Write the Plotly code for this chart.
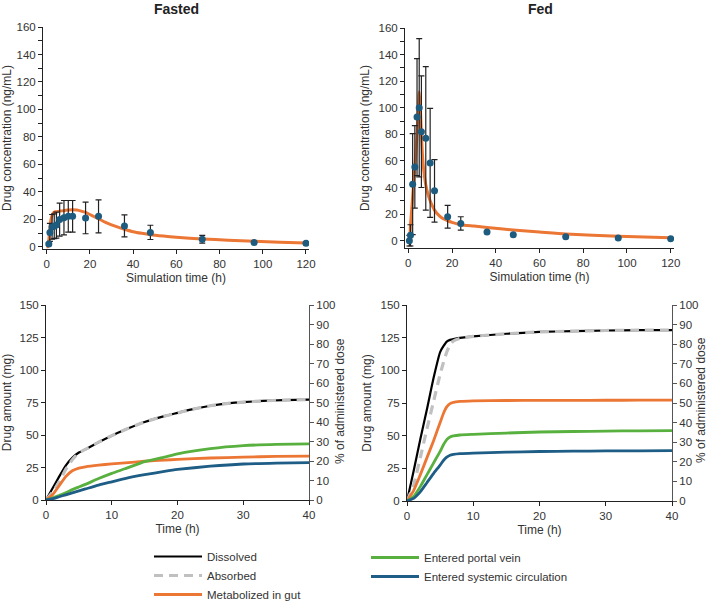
import plotly.graph_objects as go

# ---------------- data ----------------
# Top: plasma concentration (ng/mL)
fasted_obs_t = [1, 1.5, 2.5, 3.5, 4.5, 6, 8, 10, 12, 18, 24, 36, 48, 72, 96, 120]
fasted_obs_c = [2, 10.5, 14.5, 15, 15.8, 19.8, 21.2, 22.2, 22.2, 21, 22.2, 15.2, 10.5, 5.5, 3.2, 2.5]
fasted_obs_err = [0.8, 6.5, 9, 9, 9.5, 12, 12.5, 11.5, 11.5, 11.5, 12, 8, 5.2, 2.8, 0, 0]

fasted_sim_t = [0, 0.5, 1, 1.5, 2, 3, 4, 6, 8, 10, 12, 14, 16, 18, 20, 22, 24, 27, 30, 33, 36,
                40, 44, 48, 54, 60, 72, 84, 96, 108, 120]
fasted_sim_c = [0, 0, 5, 14, 20, 24.5, 25.5, 26, 26.3, 26.8, 27, 26.8, 26, 25, 23.5, 22, 20.5,
                18, 16, 14.3, 12.8, 11, 9.8, 8.8, 7.8, 7, 5.7, 4.8, 4, 3.3, 2.7]

fed_obs_t = [0.5, 1, 2, 3, 4, 5, 6, 8, 10, 12, 18, 24, 36, 48, 72, 96, 120]
fed_obs_c = [0, 4, 42.5, 55.5, 93, 100, 82, 77, 58.5, 37.5, 18, 13, 6.5, 4.5, 3, 2, 1.5]
fed_obs_err = [4, 8, 38, 31, 44, 52, 42, 54, 41, 23.5, 8.5, 5, 0, 0, 0, 0, 0]

fed_sim_t = [0, 0.5, 1, 1.5, 2, 2.5, 3, 3.5, 4, 4.5, 5, 5.5, 6, 6.5, 7, 8, 9, 10, 12, 14, 16,
             18, 20, 24, 30, 36, 48, 60, 72, 96, 120]
fed_sim_c = [0, 0, 12, 22, 33, 44, 55, 67, 80, 96, 112, 100, 80, 64, 54, 42, 35, 30, 23, 19,
             16.5, 15, 13.8, 12, 11, 10, 8, 6.5, 5, 3.4, 2.3]

# Bottom: drug amounts (mg); dose 150 mg = 100 %
dose_mg = 150

fa_t_early = [0, 1, 2, 3, 4, 5, 6, 8, 10, 12, 15, 18, 20, 22, 25, 28, 30, 33, 36, 40]
fa_dissolved = [0, 9, 18, 26.5, 32.5, 36.5, 39, 44.5, 49.5, 54, 60, 64.5, 67, 69.5, 72.5, 74.5,
                75.3, 76.2, 76.8, 77.2]
fa_absorbed = [0, 6, 14, 23.5, 31, 36.3, 39, 44.5, 49.5, 54, 60, 64.5, 67, 69.5, 72.5, 74.5,
               75.3, 76.2, 76.8, 77.2]
fa_t = [0, 1, 2, 3, 4, 5, 6, 8, 10, 12, 15, 18, 20, 25, 30, 35, 40]
fa_metab = [0, 4, 11, 18, 22.5, 24.5, 25.5, 26.8, 27.8, 28.6, 29.8, 30.7, 31.2, 32.3, 33, 33.5, 33.8]
fa_portal = [0, 1.5, 3.5, 5.5, 8, 10, 12, 16.5, 20.5, 24, 29.5, 33, 35.5, 39.5, 41.8, 42.8, 43.2]
fa_systemic = [0, 1, 2.5, 4, 5.5, 7, 8.5, 11.5, 14, 16.5, 19.5, 22, 23.5, 26, 27.7, 28.4, 28.7]

fe_t = [0, 1, 2, 3, 4, 5, 5.5, 6, 6.5, 7, 8, 10, 15, 20, 25, 30, 35, 40]
fe_dissolved = [0, 23, 47, 70, 94, 114, 118.5, 122, 123.3, 124, 124.8, 126, 128, 129.4, 130,
                130.5, 130.7, 130.8]
fe_absorbed = [0, 12, 33, 55, 76, 97, 106, 114, 119.5, 122.5, 124.5, 126, 128, 129.4, 130,
               130.5, 130.7, 130.8]
fe_metab = [0, 8, 20, 33, 46, 60, 67, 72, 74.5, 75.5, 76.2, 76.6, 76.9, 77, 77.05, 77.1, 77.15, 77.2]
fe_portal = [0, 3.5, 11, 20, 29, 38, 43, 47, 49, 49.8, 50.5, 51, 52, 52.8, 53.2, 53.5, 53.7, 53.8]
fe_systemic = [0, 2, 7, 14, 21, 27.5, 31, 33.5, 35, 35.6, 36.2, 36.7, 37.4, 37.9, 38.1, 38.3, 38.4, 38.5]

pct_ticks = list(range(0, 101, 10))

# ---------------- styles ----------------
ORANGE = "#EC7634"
BLUE_PT = "#1D5B7F"
GREEN = "#58B03F"
BLUE = "#1E5D85"
GRAY = "#C0C0C0"
FONT = "Arial, Liberation Sans, sans-serif"
TXT = "#333333"

fig = go.Figure()

# ---- top panels ----
for xa, ya, st, sc, ot, oc, oe in [
    ("x", "y", fasted_sim_t, fasted_sim_c, fasted_obs_t, fasted_obs_c, fasted_obs_err),
    ("x2", "y2", fed_sim_t, fed_sim_c, fed_obs_t, fed_obs_c, fed_obs_err),
]:
    fig.add_trace(go.Scatter(x=st, y=sc, mode="lines", line=dict(color=ORANGE, width=3, shape="spline", smoothing=0.6),
                             xaxis=xa, yaxis=ya, showlegend=False))
    fig.add_trace(go.Scatter(x=ot, y=oc, mode="markers",
                             marker=dict(color=BLUE_PT, size=7),
                             error_y=dict(type="data", array=oe, visible=True, color="#222222",
                                          thickness=1.2, width=3),
                             xaxis=xa, yaxis=ya, showlegend=False))

# ---- bottom panels ----
panels = [
    ("x3", "y3", fa_t_early, fa_dissolved, fa_absorbed, fa_t, fa_metab, fa_portal, fa_systemic, True),
    ("x4", "y4", fe_t, fe_dissolved, fe_absorbed, fe_t, fe_metab, fe_portal, fe_systemic, False),
]
for xa, ya, tA, dis, ab, t, met, por, sysc, leg in panels:
    fig.add_trace(go.Scatter(x=tA, y=dis, mode="lines", name="Dissolved",
                             line=dict(color="black", width=2.2, shape="spline", smoothing=0.5),
                             xaxis=xa, yaxis=ya, showlegend=leg, legend="legend", legendrank=1))
    fig.add_trace(go.Scatter(x=tA, y=ab, mode="lines", name="Absorbed",
                             line=dict(color=GRAY, width=3.2, dash="9px,6px", shape="spline", smoothing=0.5),
                             xaxis=xa, yaxis=ya, showlegend=leg, legend="legend", legendrank=2))
    fig.add_trace(go.Scatter(x=t, y=met, mode="lines", name="Metabolized in gut",
                             line=dict(color=ORANGE, width=2.8, shape="spline", smoothing=0.5),
                             xaxis=xa, yaxis=ya, showlegend=leg, legend="legend", legendrank=3))
    fig.add_trace(go.Scatter(x=t, y=por, mode="lines", name="Entered portal vein",
                             line=dict(color=GREEN, width=2.8, shape="spline", smoothing=0.5),
                             xaxis=xa, yaxis=ya, showlegend=leg, legend="legend2", legendrank=4))
    fig.add_trace(go.Scatter(x=t, y=sysc, mode="lines", name="Entered systemic circulation",
                             line=dict(color=BLUE, width=2.8, shape="spline", smoothing=0.5),
                             xaxis=xa, yaxis=ya, showlegend=leg, legend="legend2", legendrank=5))

# percent-of-dose axes (secondary)
for xa, ya in [("x3", "y5"), ("x4", "y6")]:
    fig.add_trace(go.Scatter(x=[], y=[], xaxis=xa, yaxis=ya, showlegend=False, hoverinfo="skip"))

W, H = 709, 602
def fx(a, b):
    return [a / W, b / W]
def fy(top, bottom):
    return [1 - bottom / H, 1 - top / H]

tickfont = dict(family=FONT, size=11.5, color=TXT)
titlefont = dict(family=FONT, size=12, color=TXT)

def xax(dom, anchor, rng, dtick, title):
    return dict(domain=dom, anchor=anchor, range=rng, tick0=0, dtick=dtick, showgrid=False, zeroline=False,
                showline=True, linecolor="#222222", linewidth=1, ticks="outside", ticklen=4,
                tickcolor="#222222", tickfont=tickfont, automargin=False,
                title=dict(text=title, font=titlefont, standoff=4))

def yax(dom, anchor, rng, dtick, title, minor=None, standoff=6):
    d = dict(domain=dom, anchor=anchor, range=rng, tick0=0, dtick=dtick, showgrid=False, zeroline=False,
             showline=True, linecolor="#222222", linewidth=1, ticks="outside", ticklen=4,
             tickcolor="#222222", tickfont=tickfont, automargin=False,
             title=dict(text=title, font=titlefont, standoff=standoff))
    if minor:
        d["minor"] = dict(dtick=minor, ticks="outside", ticklen=4, tickcolor="#222222")
    return d

def pax(over, anchor):
    return dict(overlaying=over, side="right", anchor=anchor, range=[0, 100], tickvals=pct_ticks,
                showgrid=False, zeroline=False, showline=True, linecolor="#555555", ticks="outside",
                ticklen=4, tickcolor="#555555", tickfont=tickfont, automargin=False)

fig.update_layout(
    template="none",
    width=W, height=H, margin=dict(l=0, r=0, t=0, b=0, autoexpand=False),
    paper_bgcolor="white", plot_bgcolor="white",
    font=dict(family=FONT, color=TXT),
    xaxis=xax(fx(43, 309), "y", [-1.7, 121.4], 20, "Simulation time (h)"),
    yaxis=yax(fy(27, 249), "x", [-1.6, 160], 20, "Drug concentration (ng/mL)", minor=10),
    xaxis2=xax(fx(405, 674), "y2", [-1.5, 121.5], 20, "Simulation time (h)"),
    yaxis2=yax(fy(28, 248), "x2", [-5.5, 160], 20, "Drug concentration (ng/mL)", minor=10),
    xaxis3=xax(fx(46, 309), "y3", [0, 40], 10, "Time (h)"),
    yaxis3=yax(fy(305, 500), "x3", [0, dose_mg], 25, "Drug amount (mg)"),
    xaxis4=xax(fx(407, 672), "y4", [0, 40], 10, "Time (h)"),
    yaxis4=yax(fy(305, 501), "x4", [0, dose_mg], 25, "Drug amount (mg)"),
    yaxis5=pax("y3", "x3"),
    yaxis6=pax("y4", "x4"),
    legend=dict(x=149 / W, y=1 - 542 / H, xanchor="left", yanchor="top", orientation="v",
                font=dict(family=FONT, size=11.5, color=TXT), itemwidth=48, tracegroupgap=0,
                bgcolor="rgba(0,0,0,0)"),
    legend2=dict(x=366 / W, y=1 - 543 / H, xanchor="left", yanchor="top", orientation="v",
                 font=dict(family=FONT, size=11.5, color=TXT), itemwidth=48, tracegroupgap=0,
                 bgcolor="rgba(0,0,0,0)"),
    annotations=[
        dict(text="<b>Fasted</b>", x=176 / W, y=1 - 9 / H, xref="paper", yref="paper", showarrow=False,
             font=dict(family=FONT, size=14, color="#222222"), xanchor="center", yanchor="middle"),
        dict(text="<b>Fed</b>", x=540 / W, y=1 - 9 / H, xref="paper", yref="paper", showarrow=False,
             font=dict(family=FONT, size=14, color="#222222"), xanchor="center", yanchor="middle"),
        dict(text="% of administered dose", x=340 / W, y=1 - 401 / H, xref="paper", yref="paper",
             showarrow=False, textangle=-90, font=titlefont, xanchor="center", yanchor="middle"),
        dict(text="% of administered dose", x=701 / W, y=1 - 400 / H, xref="paper", yref="paper",
             showarrow=False, textangle=-90, font=titlefont, xanchor="center", yanchor="middle"),
    ],
)

fig.write_html("out.html", config={"displayModeBar": False},
               post_script="document.body.style.margin='0';document.body.style.padding='0';")
